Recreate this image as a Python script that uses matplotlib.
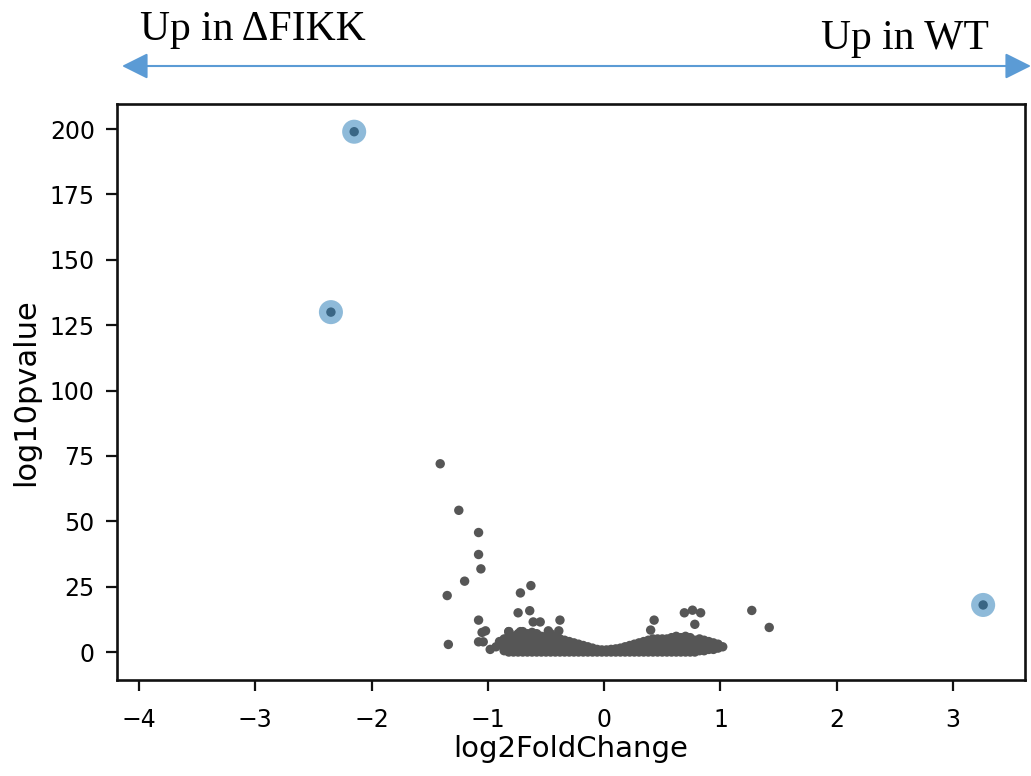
import matplotlib
matplotlib.use("Agg")
import matplotlib.pyplot as plt
from matplotlib.patches import FancyArrowPatch

# ---------------- data ----------------
# highlighted genes (blue halo)
hl_x = [-2.15, -2.35, 3.26]
hl_y = [199.0, 130.0, 18.0]

# scattered grey genes away from the main cloud
sc_x = [-1.41, -1.25, -1.08, -1.08, -1.06, -1.20, -1.35, -1.34, -1.08, -1.02,
        -1.05, -1.08, -1.04, -0.98, -0.72, -0.63, -0.74, -0.64, -0.61, -0.55,
        -0.38, 0.43, 0.69, 0.76, 0.83, 0.78, 1.27, 1.42, 0.40, -0.48,
        -0.39, -0.82, -0.83, -0.72, -0.90, -0.93]
sc_y = [72.0, 54.2, 45.7, 37.3, 31.8, 27.1, 21.6, 2.9, 12.2, 8.1,
        7.5, 3.9, 3.9, 1.0, 22.6, 25.4, 15.0, 15.8, 11.5, 11.5,
        12.2, 12.2, 15.0, 16.0, 15.0, 10.6, 15.9, 9.4, 8.4, 8.1,
        8.1, 7.8, 2.7, 7.8, 4.0, 2.0]

# dense cloud near the origin, column by column
cloud_cols_x = [-0.86, -0.82, -0.78, -0.74, -0.70, -0.66, -0.62, -0.58, -0.54, -0.50,
                -0.46, -0.42, -0.38, -0.34, -0.30, -0.26, -0.22, -0.18, -0.14, -0.10,
                -0.06, -0.02, 0.02, 0.06, 0.10, 0.14, 0.18, 0.22, 0.26, 0.30,
                0.34, 0.38, 0.42, 0.46, 0.50, 0.54, 0.58, 0.62, 0.66, 0.70,
                0.74, 0.78, 0.82, 0.86, 0.90, 0.94, 0.98, 1.02]
cloud_cols_y = [[0.5, 2, 3.5, 5], [0, 1.5, 3, 4.5, 6, 7.8], [0, 1.5, 3, 4.5, 6],
                [0, 1.5, 3, 4.5, 6, 7], [0, 1.5, 3, 4.5, 6, 7.8], [0, 1.5, 3, 4.5, 6, 7],
                [0, 1.5, 3, 4.5, 6, 7.5], [0, 1.5, 3, 4.5, 6, 7], [0, 1.5, 3, 4.5, 6],
                [0, 1.5, 3, 4.5, 6], [0, 1.5, 3, 4.5, 6, 7], [0, 1.5, 3, 4.5, 5.5],
                [0, 1.5, 3, 4.5, 5], [0, 1.5, 3, 4.5], [0, 1.5, 3, 4], [0, 1.5, 3, 3.5],
                [0, 1.5, 3], [0, 1.5, 2.5], [0, 1.5, 2], [0, 1, 1.5],
                [0, 1], [0, 0.8], [0, 0.8], [0, 1], [0, 1.2], [0, 1.5],
                [0, 1.5, 2], [0, 1.5, 2.5], [0, 1.5, 3], [0, 1.5, 3, 3.5],
                [0, 1.5, 3, 4], [0, 1.5, 3, 4.5], [0, 1.5, 3, 4.5, 5], [0, 1.5, 3, 4.5, 5],
                [0, 1.5, 3, 4.5, 5], [0, 1.5, 3, 4.5, 5], [0, 1.5, 3, 4.5, 5.5],
                [0, 1.5, 3, 4.5, 6], [0, 1.5, 3, 4.5, 5.5], [0, 1.5, 3, 4.5, 6],
                [0, 1.5, 3, 4.5, 5.5], [0, 1.5, 3, 4.5], [0.5, 2, 3.5, 5],
                [0.5, 2, 3.5, 4.5], [1, 2.5, 4], [1, 2.5, 3.5], [1.5, 3], [2]]

x_ticks = [-4, -3, -2, -1, 0, 1, 2, 3]
y_ticks = [0, 25, 50, 75, 100, 125, 150, 175, 200]
x_label = "log2FoldChange"
y_label = "log10pvalue"
left_note = "Up in \u0394FIKK"
right_note = "Up in WT"

# ---------------- drawing ----------------
W, H = 1031, 776
fig = plt.figure(figsize=(W / 100, H / 100), dpi=100)
ax = fig.add_axes([117 / W, 1 - 680 / H, (1025 - 117) / W, (680 - 104) / H])

cloud_x = [x for x, ys in zip(cloud_cols_x, cloud_cols_y) for _ in ys]
cloud_y = [y for ys in cloud_cols_y for y in ys]

grey = "#565656"
ax.scatter(cloud_x, cloud_y, s=46, color=grey, edgecolors="none", zorder=2)
ax.scatter(sc_x, sc_y, s=46, color=grey, edgecolors="none", zorder=2)
ax.scatter(hl_x, hl_y, s=46, color=grey, edgecolors="none", zorder=2)
ax.scatter(hl_x, hl_y, s=300, color="C0", alpha=0.5, edgecolors="none", zorder=3)

ax.set_xlim(-4.19, 3.62)
ax.set_ylim(-10.7, 209.6)
ax.set_xticks(x_ticks)
ax.set_yticks(y_ticks)
ax.tick_params(axis="both", labelsize=17, length=8, width=1.6, color="#111111")
ax.tick_params(axis="x", pad=12)
ax.tick_params(axis="y", pad=8)
for s in ax.spines.values():
    s.set_linewidth(1.9)
    s.set_color("#111111")

ax.set_xlabel(x_label, fontsize=21)
ax.set_ylabel(y_label, fontsize=22)
ax.xaxis.set_label_coords(0.5, -0.095)
ax.yaxis.set_label_coords(-0.085, 0.5)

# annotation above the plot
fig.text(140 / W, 1 - 40 / H, left_note, family="Liberation Serif", fontsize=30,
         ha="left", va="baseline")
fig.text(821 / W, 1 - 49 / H, right_note, family="Liberation Serif", fontsize=30,
         ha="left", va="baseline")
arrow = FancyArrowPatch((122 / W, 1 - 66 / H), (1.0, 1 - 66 / H),
                        transform=fig.transFigure,
                        arrowstyle="<|-|>,head_length=16,head_width=8",
                        mutation_scale=1, color="#5B9BD5", lw=1.5,
                        shrinkA=0, shrinkB=0)
fig.patches.append(arrow)

fig.savefig("out.png", dpi=100)
